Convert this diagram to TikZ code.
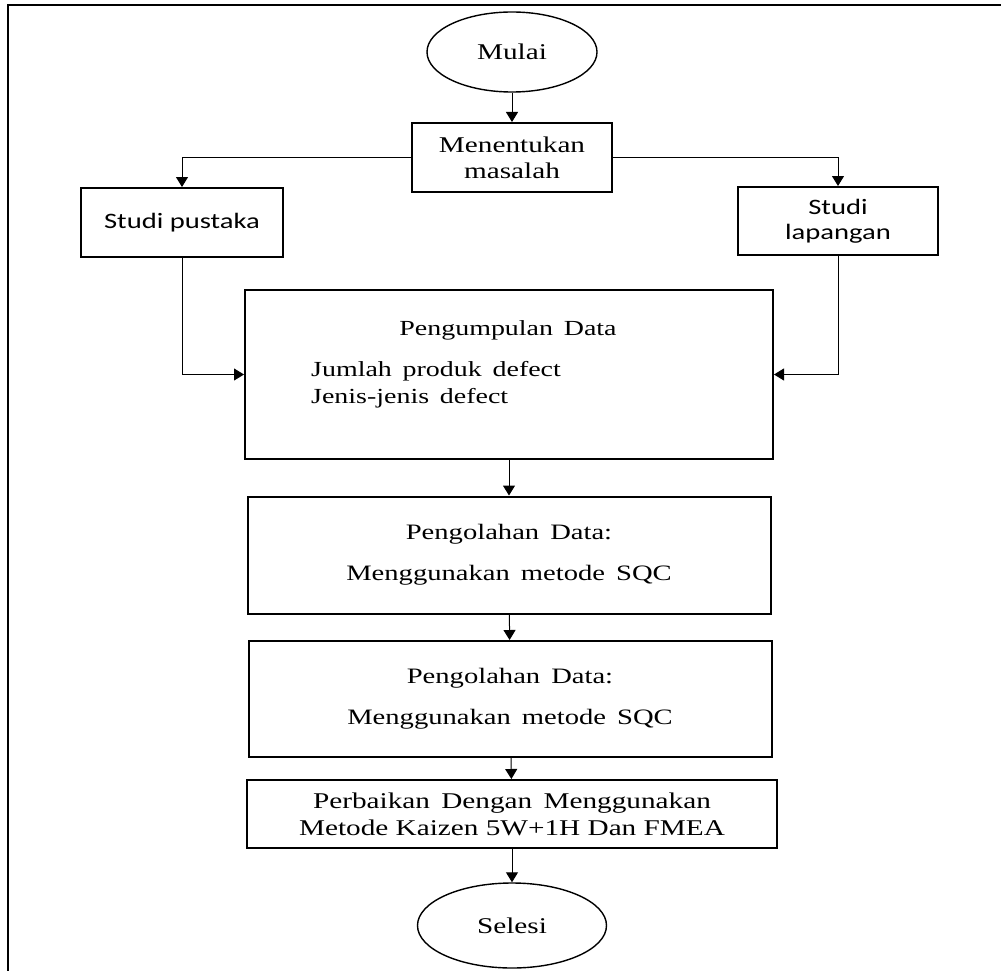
\documentclass[tikz,border=0pt]{standalone}
\usepackage{fontspec}
\setmainfont[FakeStretch=1.3]{Liberation Serif}
\newfontfamily\calibri[FakeStretch=1.3]{Carlito}
\usetikzlibrary{arrows.meta,shapes.geometric}

\begin{document}
\begin{tikzpicture}[x=1pt, y=-1pt,
    caja/.style={draw, line width=2pt, rectangle, inner sep=0pt, align=center},
    elipse/.style={draw, line width=1.4pt, ellipse, inner sep=0pt},
    texto/.style={font=\fontsize{22.5}{26}\selectfont},
    flecha/.style={-{Triangle[width=12pt,length=10pt]}, line width=1pt}]
    \useasboundingbox (0,0) rectangle (1001,971);

    % Marco
    \draw[line width=2pt] (8,971) -- (8,5) -- (1001,5);

    % Inicio y problema
    \node[elipse, texto, minimum width=170, minimum height=80] (mulai) at (512,52) {Mulai};
    \node[caja, texto, minimum width=200, minimum height=69] (masalah) at (512,157.5) {Menentukan\\masalah};

    % Estudios
    \node[caja, font=\calibri\fontsize{22}{25}\selectfont, minimum width=202, minimum height=69] (pustaka) at (182,222.5) {Studi pustaka};
    \node[caja, font=\calibri\fontsize{22}{25}\selectfont, minimum width=200, minimum height=68] (lapangan) at (838,221) {Studi\\lapangan};

    % Recogida de datos
    \node[caja, minimum width=528, minimum height=169] (kumpul) at (509,374.5) {};
    \node[font=\fontsize{21.5}{27}\selectfont, anchor=base, inner sep=0pt] (kumpulj) at (508,335) {Pengumpulan\enspace Data};
    \node[font=\fontsize{21.5}{27}\selectfont, anchor=base west, align=left, inner sep=0pt] (kumpull) at (311,403) {Jumlah\enspace produk\enspace defect\\Jenis-jenis\enspace defect};

    % Procesamiento
    \node[caja, font=\fontsize{22}{41}\selectfont, minimum width=523, minimum height=117] (olah1) at (509,555) {Pengolahan\enspace Data:\\Menggunakan\enspace metode\enspace SQC};
    \node[caja, font=\fontsize{22}{41}\selectfont, minimum width=523, minimum height=116] (olah2) at (510,699) {Pengolahan\enspace Data:\\Menggunakan\enspace metode\enspace SQC};

    % Mejora y fin
    \node[caja, font=\fontsize{22.5}{27}\selectfont, minimum width=530, minimum height=68] (baiki) at (512,814) {Perbaikan\enspace Dengan\enspace Menggunakan\\Metode Kaizen 5W+1H Dan FMEA};
    \node[elipse, texto, minimum width=189, minimum height=85] (selesi) at (512,925.5) {Selesi};

    % Flechas
    \draw[flecha] (mulai) -- (masalah);
    \draw[flecha] (masalah.west) -| (pustaka.north);
    \draw[flecha] (masalah.east) -| (lapangan.north);
    \draw[flecha] (pustaka.south) |- (kumpul.west);
    \draw[flecha] (lapangan.south) |- (kumpul.east);
    \draw[flecha] (kumpul) -- (olah1);
    \draw[flecha] (olah1) -- (olah2);
    \draw[flecha] (olah2) -- (baiki);
    \draw[flecha] (baiki) -- (selesi);
\end{tikzpicture}
\end{document}
